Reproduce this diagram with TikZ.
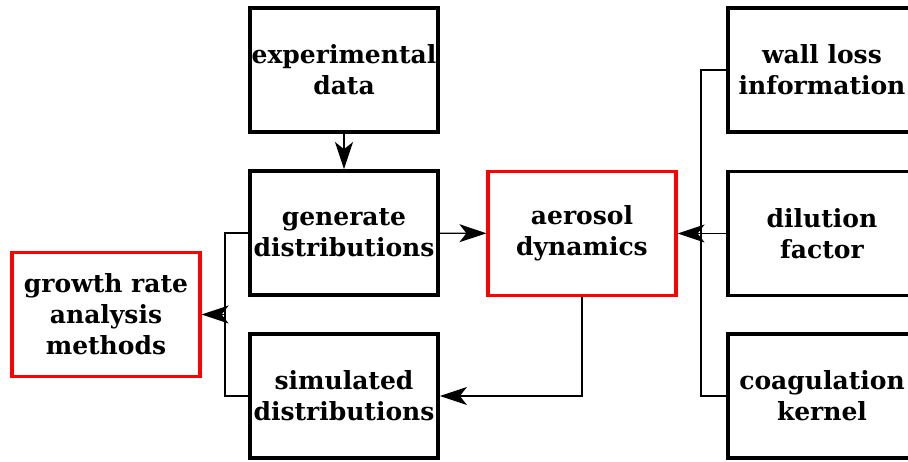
\documentclass[tikz,border=0pt]{standalone}
\usepackage{fontspec}
\setmainfont{DejaVu Serif}
\usetikzlibrary{arrows.meta}
\begin{document}
\begin{tikzpicture}[x=1pt,y=-1pt,
  box/.style={draw=black,line width=3.8pt,rectangle,minimum width=188pt,minimum height=124pt,align=center,inner sep=0pt,font=\fontsize{25}{31}\selectfont\bfseries},
  redbox/.style={box,draw=red,line width=3.2pt},
  conn/.style={line width=1.4pt,-{Stealth[length=27pt,width=18pt,inset=7pt]}},
  plain/.style={line width=1.4pt}]
\useasboundingbox (0,0) rectangle (908,462);
\node[box] (exp) at (344,70) {experimental\\data};
\node[box] (gen) at (344,233) {generate\\distributions};
\node[box] (sim) at (344,396) {simulated\\distributions};
\node[redbox] (aer) at (582,233.5) {aerosol\\dynamics};
\node[redbox] (gro) at (106,314.5) {growth rate\\analysis\\methods};
\node[box] (wall) at (822,70) {wall loss\\information};
\node[box] (dil) at (822,233.5) {dilution\\factor};
\node[box] (coag) at (822,396) {coagulation\\kernel};
\coordinate (rj) at (701,233.5);
\coordinate (lj) at (225,314.5);
\draw[conn] (exp) -- (gen);
\draw[conn] (gen) -- (aer);
\draw[conn] (aer.south) |- (sim.east);
\draw[conn] (dil.west) -- (aer.east);
\draw[plain] (wall.west) -| (rj);
\draw[plain] (coag.west) -| (rj);
\draw[conn] (lj) -- (gro.east);
\draw[plain] (gen.west) -| (lj);
\draw[plain] (sim.west) -| (lj);
\end{tikzpicture}
\end{document}
